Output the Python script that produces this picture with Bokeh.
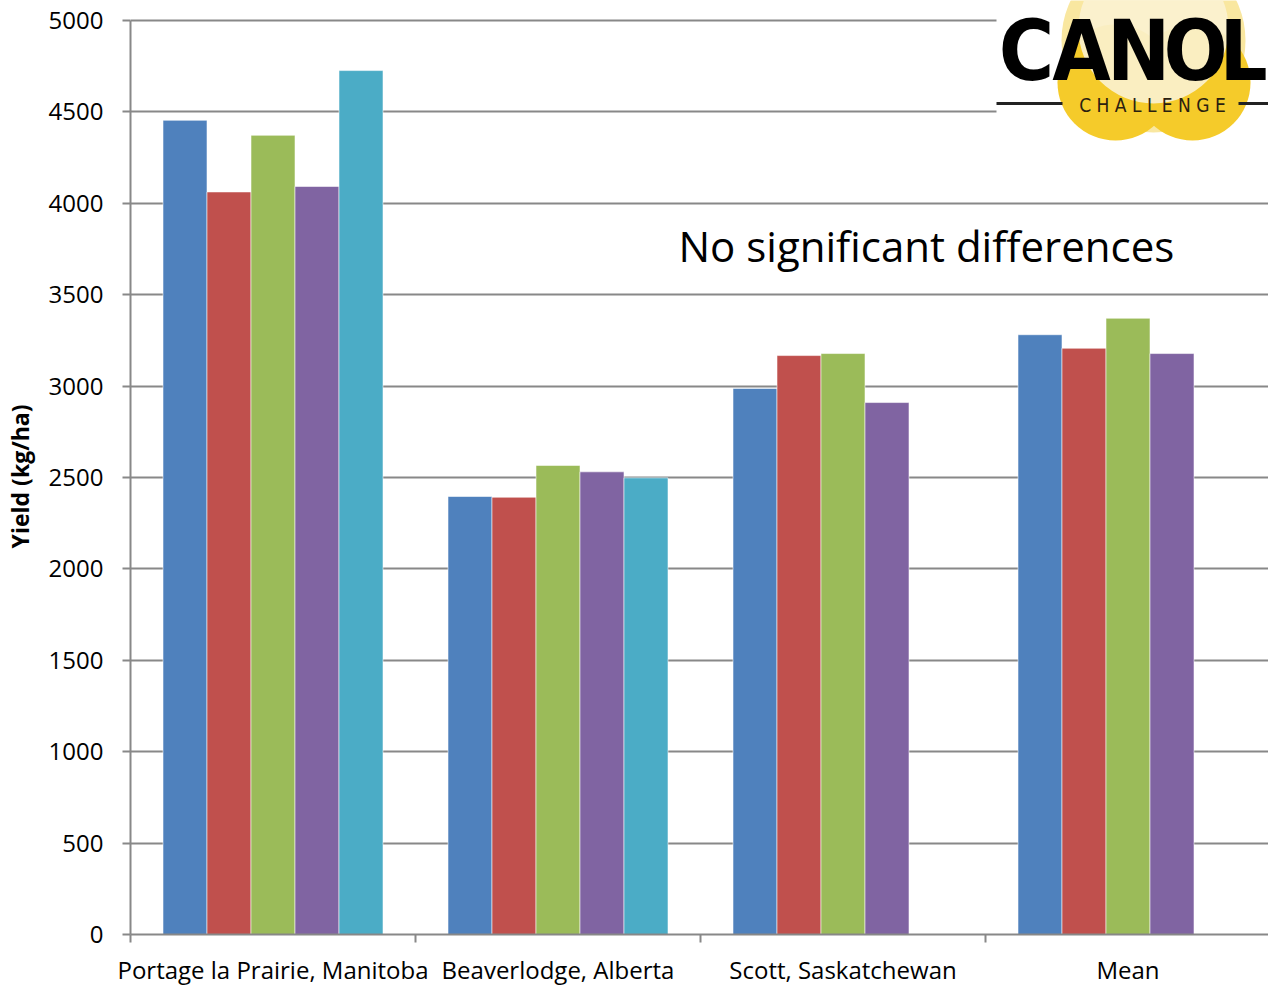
import numpy as np
from bokeh.plotting import figure
from bokeh.models import FixedTicker, Label, ColumnDataSource
from bokeh.embed import file_html
from bokeh.resources import INLINE
from bokeh.core.properties import value

# ---------------- data ----------------
categories = ["Portage la Prairie, Manitoba", "Beaverlodge, Alberta",
              "Scott, Saskatchewan", "Mean"]
series_1 = [4454, 2396, 2987, 3281]
series_2 = [4062, 2392, 3167, 3207]
series_3 = [4372, 2566, 3178, 3371]
series_4 = [4092, 2531, 2910, 3178]
series_5 = [4726, 2498, float("nan"), float("nan")]
y_ticks = [0, 500, 1000, 1500, 2000, 2500, 3000, 3500, 4000, 4500, 5000]
y_title = "Yield (kg/ha)"
note = "No significant differences"

colors = ["#4F81BD", "#C0504D", "#9BBB59", "#8064A2", "#4BACC6"]
all_series = [series_1, series_2, series_3, series_4, series_5]

# ---------------- layout ----------------
CAT_PX = 285.0
FRAME_LEFT = 130    # page px
FRAME_BOTTOM = 934  # page px
Y5000_PX = 20       # page px of the 5000 line
PX_PER_UNIT = (FRAME_BOTTOM - Y5000_PX) / 5000.0
FRAME_W = 1268 - FRAME_LEFT
FRAME_H = FRAME_BOTTOM
X_END = FRAME_W / CAT_PX
Y_END = FRAME_BOTTOM / PX_PER_UNIT

def px2x(px):
    return (px - FRAME_LEFT) / CAT_PX

def px2y(py):
    return (FRAME_BOTTOM - py) / PX_PER_UNIT

p = figure(frame_width=FRAME_W, frame_height=FRAME_H,
           x_range=(0, X_END), y_range=(0, Y_END),
           output_backend="svg", toolbar_location=None,
           min_border_left=FRAME_LEFT, min_border_top=0, min_border_right=0,
           min_border_bottom=5)
p.outline_line_color = None
p.background_fill_color = "white"
p.border_fill_color = "white"

bar_w = 44.0 / CAT_PX
n_cat = len(categories)
for s, (vals, col) in enumerate(zip(all_series, colors)):
    xs = [i + 0.5 + (s - 2) * bar_w for i in range(n_cat)]
    src = ColumnDataSource(dict(x=xs, top=vals))
    p.vbar(x="x", top="top", bottom=0, width=bar_w, source=src,
           fill_color=col, line_color="white", line_alpha=0.55, line_width=1)

# ---------------- axes & grid ----------------
GRAY = "#888888"
p.xgrid.visible = False
p.ygrid.grid_line_color = GRAY
p.ygrid.grid_line_width = 2
p.ygrid.ticker = FixedTicker(ticks=y_ticks)

yax = p.yaxis[0]
yax.ticker = FixedTicker(ticks=y_ticks)
yax.bounds = (0, 5000)
yax.axis_line_color = GRAY
yax.axis_line_width = 2
yax.major_tick_line_color = GRAY
yax.major_tick_line_width = 2
yax.major_tick_out = 8
yax.major_tick_in = 0
yax.minor_tick_line_color = None
yax.major_label_text_font = "Open Sans"
yax.major_label_text_font_size = "24px"
yax.major_label_text_color = "black"
yax.major_label_standoff = 19
yax.axis_label = y_title + "\u00a0\u00a0\u00a0"
yax.axis_label_text_font = "Open Sans"
yax.axis_label_text_font_style = "bold"
yax.axis_label_text_font_size = "23px"
yax.axis_label_text_color = "black"
yax.axis_label_standoff = 10

xax = p.xaxis[0]
xax.ticker = FixedTicker(ticks=[i + 0.5 for i in range(n_cat)],
                         minor_ticks=[float(i) for i in range(n_cat)])
xax.major_label_overrides = {i + 0.5: c for i, c in enumerate(categories)}
xax.axis_line_color = GRAY
xax.axis_line_width = 2
xax.major_tick_line_color = None
xax.major_tick_out = 0
xax.major_tick_in = 0
xax.minor_tick_line_color = GRAY
xax.minor_tick_line_width = 2
xax.minor_tick_out = 8
xax.minor_tick_in = 0
xax.major_label_text_font = "Open Sans"
xax.major_label_text_font_size = "24px"
xax.major_label_text_color = "black"
xax.major_label_standoff = 10

# ---------------- annotation ----------------
p.add_layout(Label(x=px2x(678), y=px2y(245), text=note,
                   text_font="Open Sans", text_font_size="42px",
                   text_color="black", text_baseline="middle",
                   text_align="left"))

# ---------------- logo (decoration) ----------------
p.quad(left=px2x(996), right=X_END, bottom=px2y(113), top=Y_END,
       fill_color="white", line_color=None)
p.scatter(x=[px2x(1153)], y=[px2y(40)], size=184, marker="circle",
          fill_color="#F9E7A0", line_color=None)
p.scatter(x=[px2x(1115), px2x(1192)], y=[px2y(82), px2y(82)], size=116,
          marker="circle", fill_color="#F5CB2A", line_color=None)
p.scatter(x=[px2x(1153)], y=[px2y(28)], size=150, marker="circle",
          fill_color="#FBF2D2", line_color=None, fill_alpha=0.9)
p.segment(x0=[px2x(996), px2x(1238)], y0=[px2y(103), px2y(103)],
          x1=[px2x(1062), X_END], y1=[px2y(103), px2y(103)],
          line_color="#222222", line_width=3)
logo_letters = ["C", "A", "N", "O", "L"]
logo_centers = [1026, 1081, 1138, 1195, 1243]
for ch, cx in zip(logo_letters, logo_centers):
    p.add_layout(Label(x=px2x(cx), y=px2y(50), text=ch,
                       text_font="DejaVu Sans Condensed", text_font_style="bold",
                       text_font_size="84px", text_color="black",
                       text_baseline="middle", text_align="center"))
p.add_layout(Label(x=px2x(1152), y=px2y(104), text="C H A L L E N G E",
                   text_font="DejaVu Sans Condensed", text_font_size="19px",
                   text_color="#2a2010", text_baseline="middle",
                   text_align="center"))

open("out.html", "w").write(file_html(p, INLINE))
